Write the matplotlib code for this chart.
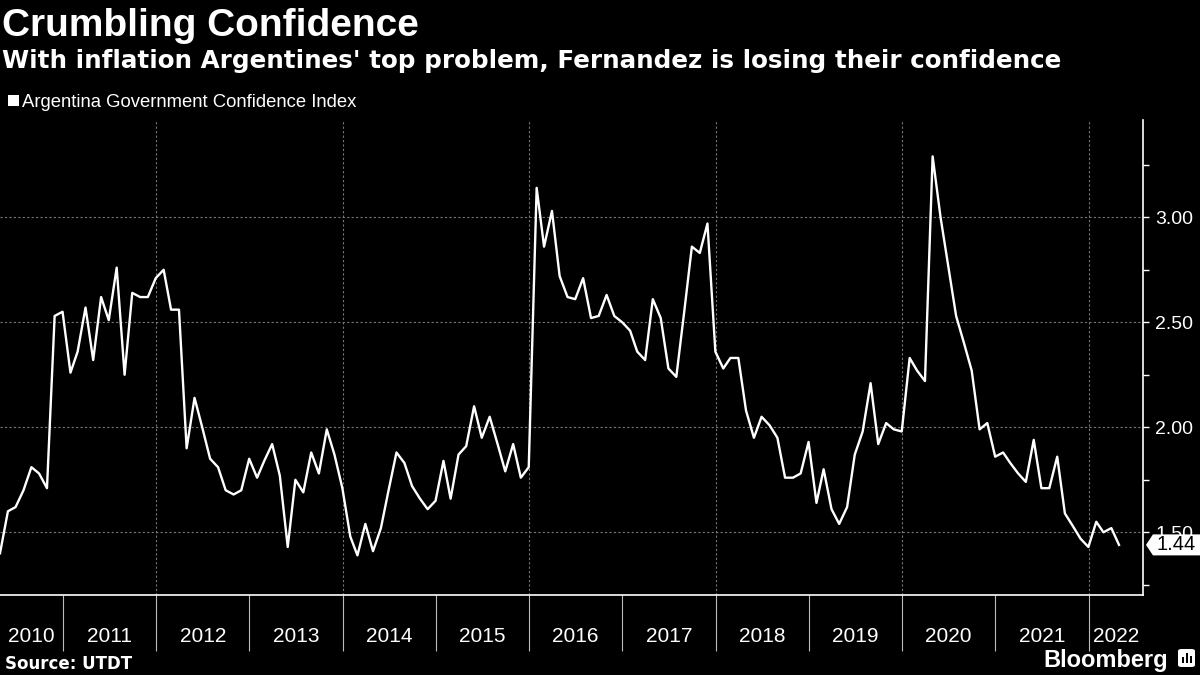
import matplotlib
matplotlib.use("Agg")
import matplotlib.pyplot as plt
import matplotlib.transforms as mtransforms
from matplotlib.patches import Polygon, Rectangle, FancyBboxPatch
import pandas as pd

# monthly UTDT government confidence index, Apr 2010 - Apr 2022
confidence = [
    1.40, 1.60, 1.62, 1.70, 1.81, 1.78, 1.71, 2.53, 2.55, 2.26, 2.36, 2.57,
    2.32, 2.62, 2.51, 2.76, 2.25, 2.64, 2.62, 2.62, 2.71, 2.75, 2.56, 2.56,
    1.90, 2.14, 2.00, 1.85, 1.81, 1.70, 1.68, 1.70, 1.85, 1.76, 1.84, 1.92,
    1.77, 1.43, 1.75, 1.69, 1.88, 1.78, 1.99, 1.87, 1.71, 1.48, 1.39, 1.54,
    1.41, 1.52, 1.70, 1.88, 1.83, 1.72, 1.66, 1.61, 1.65, 1.84, 1.66, 1.87,
    1.91, 2.10, 1.95, 2.05, 1.92, 1.79, 1.92, 1.76, 1.81, 3.14, 2.86, 3.03,
    2.72, 2.62, 2.61, 2.71, 2.52, 2.53, 2.63, 2.53, 2.50, 2.46, 2.36, 2.32,
    2.61, 2.52, 2.28, 2.24, 2.55, 2.86, 2.83, 2.97, 2.36, 2.28, 2.33, 2.33,
    2.08, 1.95, 2.05, 2.01, 1.95, 1.76, 1.76, 1.78, 1.93, 1.64, 1.80, 1.61,
    1.54, 1.62, 1.87, 1.98, 2.21, 1.92, 2.02, 1.99, 1.98, 2.33, 2.27, 2.22,
    3.29, 3.00, 2.77, 2.53, 2.40, 2.27, 1.99, 2.02, 1.86, 1.88, 1.83, 1.78,
    1.74, 1.94, 1.71, 1.71, 1.86, 1.59, 1.53, 1.47, 1.43, 1.55, 1.50, 1.52,
    1.44,
]
dates = pd.date_range("2010-04-30", periods=len(confidence), freq=pd.offsets.MonthEnd())

years = list(range(2010, 2023))
y_ticks = [1.5, 2.0, 2.5, 3.0]
y_tick_labels = ["1.50", "2.00", "2.50", "3.00"]
y_minor = [1.25, 1.75, 2.25, 2.75, 3.25]

title = "Crumbling Confidence"
subtitle = "With inflation Argentines' top problem, Fernandez is losing their confidence"
legend_label = "Argentina Government Confidence Index"
source = "Source: UTDT"

plt.rcParams["font.family"] = ["Liberation Sans", "DejaVu Sans"]

fig = plt.figure(figsize=(12, 6.75), dpi=100, facecolor="black")
ax = fig.add_axes([0.0, 1 - 595 / 675, 1143 / 1200, 475 / 675], facecolor="black")

ax.plot(dates, confidence, color="white", lw=1.7, zorder=3)

x_left = pd.Timestamp("2010-04-30")
x_right = pd.Timestamp("2022-08-02")
ax.set_xlim(x_left, x_right)
ax.set_ylim(1.2014, 3.463)

# year separators (major) and centered year labels (minor)
bounds = [pd.Timestamp(f"{y}-01-01") for y in years[1:]]
ax.set_xticks(bounds)
ax.set_xticklabels([""] * len(bounds))
edges = [x_left] + bounds + [x_right]
mids = [edges[i] + (edges[i + 1] - edges[i]) / 2 for i in range(len(years))]
ax.set_xticks(mids, minor=True)
ax.set_xticklabels([str(y) for y in years], minor=True)
ax.tick_params(axis="x", which="major", direction="out", length=40, width=0.8, color="#bbbbbb")
ax.tick_params(axis="x", which="minor", length=0, pad=23, labelsize=15, labelcolor="white")

# right-hand value axis
ax.yaxis.tick_right()
ax.set_yticks(y_ticks)
ax.set_yticklabels(y_tick_labels)
ax.set_yticks(y_minor, minor=True)
ax.tick_params(axis="y", which="both", direction="out", length=4, width=1, color="white",
               labelsize=14, labelcolor="white", pad=5)

ax.grid(axis="y", which="major", color="#777777", lw=0.8, ls=(0, (2, 2)))
for y in range(2012, 2023, 2):
    ax.axvline(pd.Timestamp(f"{y}-01-01"), color="#777777", lw=0.8, ls=(0, (2, 2)), zorder=1)

for side in ["top", "left"]:
    ax.spines[side].set_visible(False)
for side in ["bottom", "right"]:
    ax.spines[side].set_color("white")
    ax.spines[side].set_linewidth(1.2)

# last value tag (sits over the 1.50 label, as in the original)
last = confidence[-1]
trans = mtransforms.blended_transform_factory(ax.transAxes, ax.transData)
tag = Polygon([(1.0026, last), (1.0087, last + 0.05), (1.06, last + 0.05),
               (1.06, last - 0.05), (1.0087, last - 0.05)],
              closed=True, facecolor="white", edgecolor="none",
              transform=trans, clip_on=False, zorder=6)
ax.add_patch(tag)
ax.text(1.0115, last, f"{last:.2f}", transform=trans, ha="left", va="center",
        fontsize=14.5, color="black", zorder=7, clip_on=False)

# header
fig.text(0.002, 1 - 36 / 675, title, fontsize=28, fontweight="bold", color="white", va="baseline")
fig.text(0.002, 1 - 68 / 675, subtitle, fontsize=17.7, fontweight="bold", color="white",
         va="baseline", family="DejaVu Sans")
fig.patches.append(Rectangle((8 / 1200, 1 - 106 / 675), 11 / 1200, 11 / 675,
                             transform=fig.transFigure, facecolor="white", edgecolor="none"))
fig.text(22 / 1200, 1 - 107 / 675, legend_label, fontsize=13.3, color="white", va="baseline")

# footer
fig.text(5 / 1200, 1 - 669 / 675, source, fontsize=12, fontweight="bold", color="white",
         va="baseline", family="DejaVu Sans")
fig.text(1168 / 1200, 1 - 667 / 675, "Bloomberg", fontsize=17, fontweight="bold", color="white",
         va="baseline", ha="right")
fig.patches.append(FancyBboxPatch((1178 / 1200, 1 - 667 / 675), 17 / 1200, 18 / 675,
                                  boxstyle="round,pad=0,rounding_size=0.003",
                                  transform=fig.transFigure, facecolor="white", edgecolor="none"))
for bx, bh in [(1182, 6), (1186, 10), (1190, 7)]:
    fig.patches.append(Rectangle((bx / 1200, 1 - 663 / 675), 2 / 1200, bh / 675,
                                 transform=fig.transFigure, facecolor="black", edgecolor="none"))

fig.savefig("out.png", dpi=100, facecolor="black")
